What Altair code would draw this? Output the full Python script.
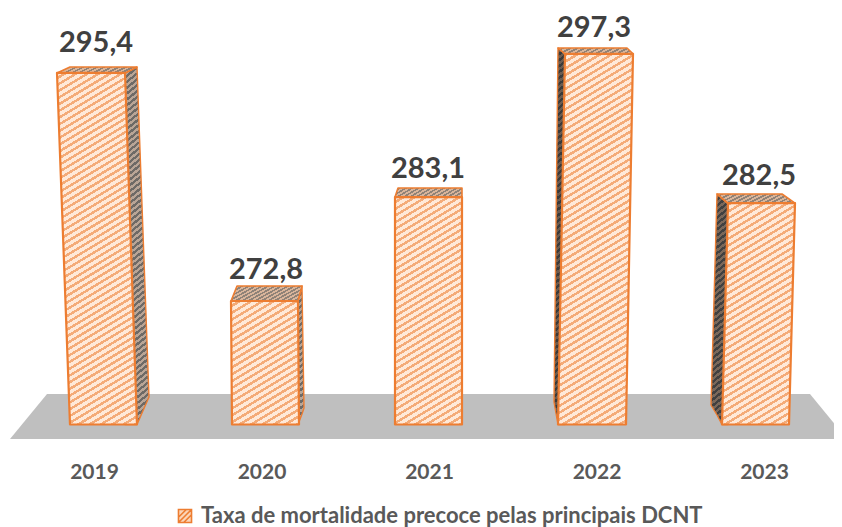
import altair as alt
import pandas as pd
import math

years = ["2019", "2020", "2021", "2022", "2023"]
values = [295.4, 272.8, 283.1, 297.3, 282.5]
value_labels = ["295,4", "272,8", "283,1", "297,3", "282,5"]
series_name = "Taxa de mortalidade precoce pelas principais DCNT"

W, H = 826, 442
PX0, PY0 = 8, 8
SLOT = 167.5
FIRST = 94.0
UNIT = 10.09
Y_TOP = 272.8 + (301 - PY0) / UNIT
Y_BOT = Y_TOP - H / UNIT
BASE = 272.8 - (424.5 - 301) / UNIT

def ux(px):
    return (px - FIRST) / SLOT

def uy(py):
    return 272.8 + (301 - py) / UNIT

XDOM = [ux(PX0), ux(PX0 + W)]
xs = alt.Scale(domain=XDOM, nice=False, zero=False)
ys = alt.Scale(domain=[Y_BOT, Y_TOP], nice=False, zero=False)

ORANGE = "#ED7D31"

def hatch(w, h, light="#FFE9D8", dark="#F4AB78", period=5.8, slope=0.6, frac=0.42):
    r = slope * w / h
    k = (r + 1) / (r * r + 1)
    dxu, dyu = r * k, k
    L2 = dxu * dxu + dyu * dyu
    a, b = dxu / (w * L2), dyu / (h * L2)
    span = 1 / math.hypot(a, b)
    n = max(1, int(round(span / period)))
    stops = []
    for i in range(n):
        s, m, e = i / n, (i + 1 - frac) / n, (i + 1) / n
        stops += [{"offset": s, "color": light}, {"offset": m, "color": light},
                  {"offset": m, "color": dark}, {"offset": e, "color": dark}]
    return {"gradient": "linear", "x1": 0, "y1": 0, "x2": dxu, "y2": dyu, "stops": stops}

# 3D shape of each column, in page pixels
FRONT = [(57, 125, 70, 137), (231, 298, 232, 299), (395, 462, 395, 462),
         (565, 633, 558, 626), (728, 795, 722, 789)]
BACK_TOP = [(70, 137, 67), (237, 302, 286), (398, 462, 188), (558, 627, 48), (717, 782, 194)]
SIDE_WALL = [
    [(125, 73, 424.5), (137, 67, 424.5), (149, 397, 397)],
    [(298, 301, 424.5), (302, 286, 414), (304, 408, 408)],
    None,
    [(554, 402, 402), (558, 48, 424.5), (565, 54, 424.5)],
    [(711, 405, 405), (717, 194, 415), (722, 198.5, 424.5), (728, 204, 424.5)],
]
SIDE_TONES = [("#B9A596", "#6E6A66"), ("#B9A596", "#6E6A66"), None, ("#6B5B50", "#3A3A3A"), ("#7A685A", "#404040")]
LABEL_X = [96, 266, 428, 594, 759]
LABEL_GAP = [30, 31, 28, 26, 27]

AXIS = alt.Axis(
    values=[0, 1, 2, 3, 4],
    labelExpr="[" + ",".join(f"'{t}'" for t in years) + "][datum.value]",
    title=None, domain=False, ticks=False, grid=False,
    labelFont="Lato", labelFontWeight="bold", labelFontSize=21, labelColor="#595959", labelPadding=11,
)
x = alt.X("x:Q", scale=xs, axis=AXIS)
y = alt.Y("y:Q", scale=ys, axis=None)

def quad(top_y, bot_y, tl, tr, bl, br, fill, sw=1.6):
    df = pd.DataFrame({"y": [top_y, bot_y], "x": [ux(tl), ux(bl)], "x2": [ux(tr), ux(br)]})
    return alt.Chart(df).mark_area(
        orient="horizontal", color=fill, stroke=ORANGE, strokeWidth=sw, strokeJoin="round", line=False
    ).encode(y=y, x=x, x2="x2:Q")

def poly(points, fill, sw=1.4):
    df = pd.DataFrame(points, columns=["x", "y", "y2"])
    df["x"] = df["x"].map(ux)
    df["y"] = df["y"].map(uy)
    df["y2"] = df["y2"].map(uy)
    return alt.Chart(df).mark_area(
        orient="vertical", color=fill, stroke=ORANGE, strokeWidth=sw, strokeJoin="round"
    ).encode(x=x, y=y, y2="y2:Q")

layers = []

legend_df = pd.DataFrame({"x": [ux(300)], "y": [uy(415)], "s": [series_name]})
layers.append(alt.Chart(legend_df).mark_point(filled=True, size=1, opacity=0).encode(
    x=x, y=y,
    color=alt.Color("s:N", scale=alt.Scale(domain=[series_name], range=["#FBD5B8"]), legend=alt.Legend(
        title=None, orient="none", legendX=174 - PX0, legendY=505 - PY0,
        symbolType="M-1,-1H1V1H-1Z M-1,0.2L0.2,-1 M-1,1L1,-1 M-0.2,1L1,-0.2",
        symbolSize=170, symbolStrokeColor=ORANGE, symbolStrokeWidth=1.6, symbolFillColor="#FDE3CF",
        symbolOpacity=1, labelFont="Lato", labelFontWeight="bold", labelFontSize=22,
        labelColor="#595959", labelLimit=700, labelOffset=5,
    )),
))

floor = pd.DataFrame({"y": [uy(394), uy(439)], "x": [ux(47), ux(10)], "x2": [ux(810), ux(847)]})
layers.append(alt.Chart(floor).mark_area(orient="horizontal", color="#BFBFBF").encode(y=y, x=x, x2="x2:Q"))

for i, v in enumerate(values):
    tl, tr, bl, br = FRONT[i]
    btl, btr, by = BACK_TOP[i]
    fy = 301 + (272.8 - v) * UNIT
    wall = SIDE_WALL[i]
    if wall is not None:
        light, dark = SIDE_TONES[i]
        wall_w = max(p[0] for p in wall) - min(p[0] for p in wall)
        side_fill = hatch(wall_w, 424.5 - by, light=light, dark=dark, period=4.6, slope=0.8, frac=0.5)
        layers.append(poly(wall, side_fill))
    top_fill = hatch(tr - tl, fy - by, light="#D9B59B", dark="#8F8277", period=3.2, frac=0.5)
    layers.append(quad(uy(by), v, btl, btr, tl, tr, top_fill))
    front_fill = hatch(max(tr, br) - min(tl, bl), 424.5 - fy)
    layers.append(quad(v, BASE, tl, tr, bl, br, front_fill, sw=2.2))

lab = pd.DataFrame({
    "x": [ux(p) for p in LABEL_X],
    "y": [v + g / UNIT for v, g in zip(values, LABEL_GAP)],
    "t": value_labels,
})
layers.append(alt.Chart(lab).mark_text(
    font="Lato", fontWeight="bold", fontSize=29, color="#404040", baseline="middle", align="center"
).encode(x=x, y=y, text="t:N"))

chart = alt.layer(*layers).resolve_scale(color="independent").properties(
    width=W, height=H, background="white",
    padding={"left": 0, "top": 0, "right": 0, "bottom": 78},
    autosize=alt.AutoSizeParams(type="none"),
).configure_view(strokeWidth=0)

chart.save("out.html", embed_options={"renderer": "svg", "actions": False})
